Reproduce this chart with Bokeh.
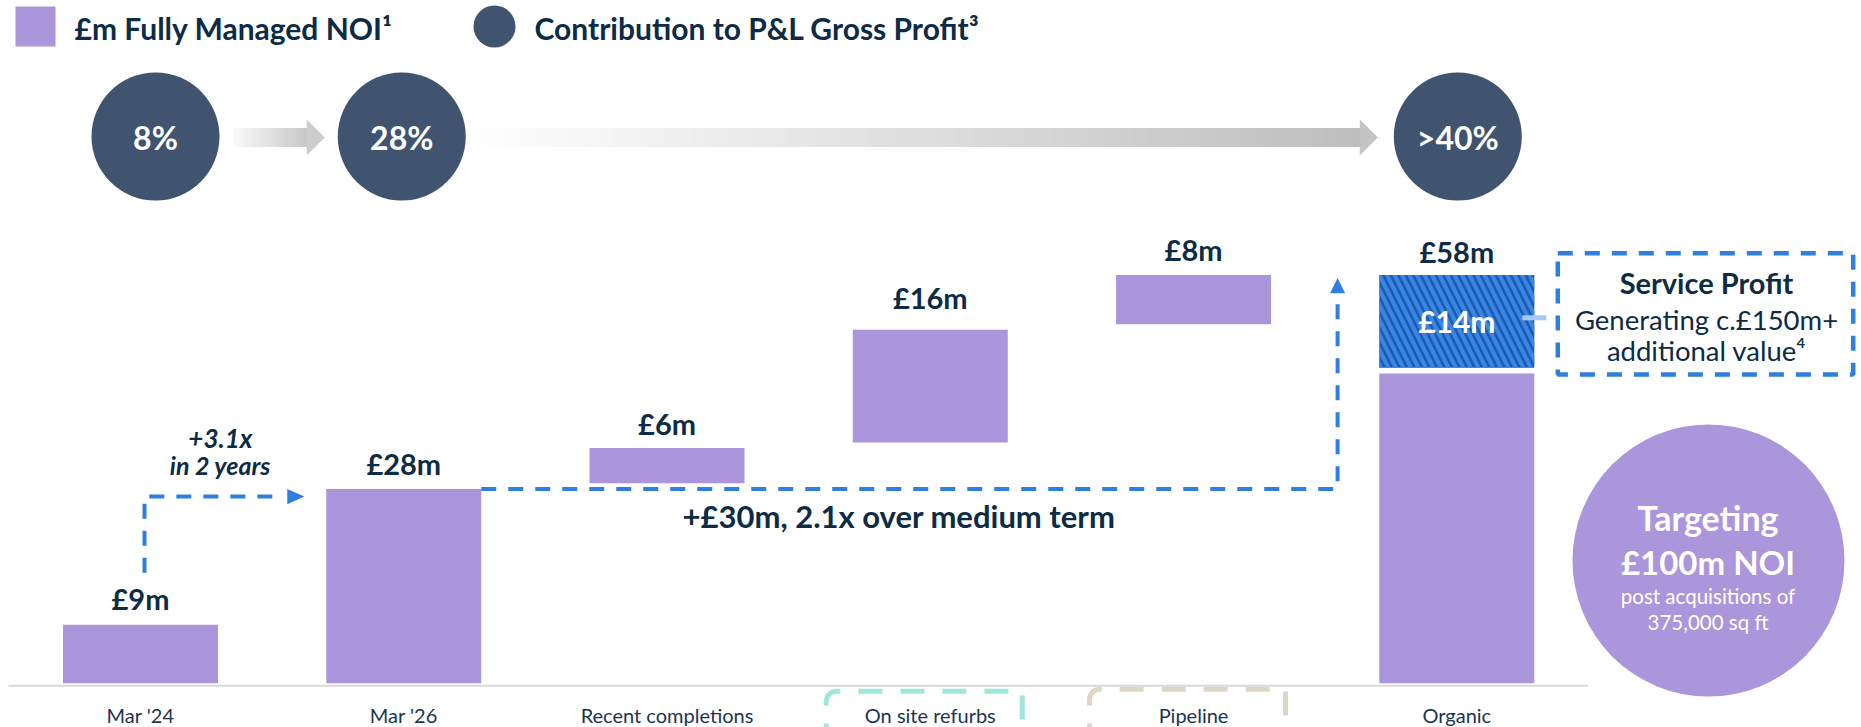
import numpy as np
from bokeh.plotting import figure
from bokeh.models import Range1d
from bokeh.core.properties import value
from bokeh.embed import file_html
from bokeh.resources import INLINE

# ---------------- data ----------------
categories = ["Mar '24", "Mar '26", "Recent completions", "On site refurbs", "Pipeline", "Organic"]
noi_labels = ["£9m", "£28m", "£6m", "£16m", "£8m", "£58m"]
bar_bottom = [0.0, 0.0, 28.4, 34.2, 51.0, 0.0]
bar_top = [8.3, 27.6, 33.4, 50.2, 58.0, 44.0]
service_bottom = [44.8]
service_top = [58.0]
service_labels = ["£14m"]
share_categories = ["Mar '24", "Mar '26", "Organic"]
share_labels = ["8%", "28%", ">40%"]
bracket_categories = ["On site refurbs", "Pipeline"]
legend_labels = ["£m Fully Managed NOI¹", "Contribution to P&L Gross Profit³"]
growth_note = ["+3.1x", "in 2 years"]
medium_note = ["+£30m, 2.1x over medium term"]
service_text = ["Service Profit", "Generating c.£150m+", "additional value⁴"]
target_text = ["Targeting", "£100m NOI", "post acquisitions of", "375,000 sq ft"]

# ---------------- layout ----------------
W, H = 1861, 727
PAGE = 0
XU, YU = 263.26, 7.04          # px per category, px per £m
CAT0_PX, ZERO_PY = 140.0, 682.7


def X(px):
    return (np.asarray(px, dtype=float) - CAT0_PX) / XU


def Y(py):
    return (ZERO_PY - np.asarray(py, dtype=float)) / YU


def DX(px):
    return np.asarray(px, dtype=float) / XU


def DY(py):
    return np.asarray(py, dtype=float) / YU


PURPLE = "#ac96db"
NAVY = "#0d2b45"
LABEL = "#1b3551"
SLATE = "#40536f"
BLUE = "#2e7fe0"
FONT = value("Lato")

p = figure(width=W, height=H,
           x_range=Range1d(float(X(PAGE)), float(X(PAGE + W))),
           y_range=Range1d(float(Y(PAGE + H)), float(Y(PAGE))),
           x_axis_type=None, y_axis_type=None,
           output_backend="svg", toolbar_location=None,
           min_border=0, outline_line_color=None,
           background_fill_color="white", border_fill_color="white")


def txt(x, y, t, size, style="bold", color=NAVY, align="center"):
    p.text(x=list(np.atleast_1d(x)), y=list(np.atleast_1d(y)), text=list(t),
           text_font=FONT, text_font_size=f"{size}px", text_font_style=style,
           text_color=color, text_align=align, text_baseline="middle")


xi = np.arange(len(categories), dtype=float)
BW = float(DX(155))
org = categories.index("Organic")

# ---- legend (top-left) ----
p.scatter([float(X(35))], [float(Y(26))], marker="square", size=40, fill_color=PURPLE, line_color=None)
txt(X(74), Y(27), [legend_labels[0]], 30, align="left")
p.scatter([float(X(494))], [float(Y(26))], marker="circle", size=42, fill_color=SLATE, line_color=None)
txt(X(534), Y(27), [legend_labels[1]], 30, align="left")

# ---- gross-profit share circles and gradient arrows ----
share_x = np.array([categories.index(c) for c in share_categories], float) + DX([15, -2, 1])
share_px = CAT0_PX + share_x * XU
circ_y = float(Y(136))


def grad_arrow(x0px, x1px, v0, v1, vhead, n):
    hb = x1px - 18
    edges = np.linspace(x0px, hb, n + 1)
    mids = (edges[:-1] + edges[1:]) / 2
    vals = np.round(v0 + (v1 - v0) * (mids - x0px) / (hb - x0px)).astype(int)
    cols = ["#%02x%02x%02x" % (v, v, v) for v in vals]
    p.quad(left=X(edges[:-1]), right=X(edges[1:]) + DX(0.8),
           bottom=float(Y(146.5)), top=float(Y(127.5)), fill_color=cols, line_color=None)
    p.patch(list(X([hb, x1px, hb])), list(Y([119, 137, 155])),
            fill_color="#%02x%02x%02x" % (vhead, vhead, vhead), line_color=None)


grad_arrow(share_px[0] + 64 + 14, share_px[1] - 64 - 13, 250, 200, 205, 30)
grad_arrow(share_px[1] + 64 + 14, share_px[2] - 64 - 16, 254, 190, 196, 120)

p.scatter(share_x, [circ_y] * 3, marker="circle", size=128, fill_color=SLATE, line_color=None)
txt(share_x, [float(Y(137))] * 3, share_labels, 32, color="white")

# ---- baseline ----
p.line([float(X(8)), org + float(DX(131))], [float(-DY(2.6))] * 2, line_color="#d9d9d9", line_width=2)

# ---- bottom brackets ----
br_colors = ["#9fe8d9", "#ddd6c6"]
br_tops = [690.8, 688.8]
for c, col, tp in zip(bracket_categories, br_colors, br_tops):
    cx = CAT0_PX + categories.index(c) * XU - 6
    left, right, r = cx - 98, cx + 98, 10
    ang = np.linspace(np.pi, np.pi / 2, 14)
    xs = [left] + list(left + r + r * np.cos(ang)) + [right, right]
    ys = [745] + list(tp + r - r * np.sin(ang)) + [tp, 745]
    p.line(list(X(xs)), list(Y(ys)), line_color=col, line_width=5, line_dash="24 18", line_dash_offset=2)

# ---- bars ----
p.quad(left=xi - BW / 2, right=xi + BW / 2, bottom=bar_bottom, top=bar_top,
       fill_color=PURPLE, line_color=None)
p.quad(left=[org - BW / 2], right=[org + BW / 2], bottom=service_bottom, top=service_top,
       fill_color="#1b5cb5", line_color=None,
       hatch_pattern="\\", hatch_color="#3b86e3", hatch_scale=15, hatch_weight=4)

label_base = list(bar_top)
label_base[org] = service_top[0]
label_gap_px = [26, 25, 25, 32, 25, 23]
txt(xi, [b + float(DY(g)) for b, g in zip(label_base, label_gap_px)], noi_labels, 29)
txt([org], [(service_bottom[0] + service_top[0]) / 2], service_labels, 30, color="white")

# category labels
txt(xi, [float(Y(714))] * len(categories), categories, 20, "normal", LABEL)

# ---- "+3.1x in 2 years" dashed arrow ----
vx = xi[0] + float(DX(4))
y_lo = bar_top[0] + float(DY(52))
y_h = bar_top[1] - float(DY(7.7))
x_tip = xi[1] - BW / 2 - float(DX(22))
p.line([vx, vx, x_tip - float(DX(20))], [y_lo, y_h, y_h], line_color=BLUE, line_width=4, line_dash="15 12")
p.patch([x_tip - float(DX(17)), x_tip, x_tip - float(DX(17))],
        [y_h + float(DY(7.7)), y_h, y_h - float(DY(7.7))], fill_color=BLUE, line_color=None)
mid = (vx + x_tip) / 2 - float(DX(4))
txt([mid], [y_h + float(DY(58.5))], [growth_note[0]], 26, "bold italic")
txt([mid], [y_h + float(DY(32))], [growth_note[1]], 25, "bold italic")

# ---- medium-term dashed arrow ----
hx0 = xi[1] + BW / 2
hy = bar_top[1]
vx2 = org - BW / 2 - float(DX(41.7))
tip = service_top[0] - float(DY(3))
p.line([hx0, vx2, vx2], [hy, hy, tip - float(DY(16))], line_color=BLUE, line_width=4, line_dash="15 12")
p.patch([vx2 - float(DX(7.5)), vx2, vx2 + float(DX(7.5))],
        [tip - float(DY(15.4)), tip, tip - float(DY(15.4))], fill_color=BLUE, line_color=None)
txt(X(898.5), [hy - float(DY(27))], medium_note, 31)

# ---- service profit box ----
p.line([org + BW / 2 - float(DX(12)), org + BW / 2 + float(DX(12))], [float(Y(317.3))] * 2,
       line_color="#a7c9f3", line_width=5)
p.quad(left=X(1557.3), right=X(1852.7), top=Y(252.7), bottom=Y(374),
       fill_color=None, line_color=BLUE, line_width=4.5, line_dash="15 12")
txt(X(1706), Y(282), [service_text[0]], 29)
txt(X(1706), Y(319), [service_text[1]], 27.5, "normal")
txt(X(1706), Y(350), [service_text[2]], 27.5, "normal")

# ---- target circle ----
p.scatter([float(X(1708))], [float(Y(560))], marker="circle", size=272, fill_color=PURPLE, line_color=None)
txt(X(1707.5), Y(516.5), [target_text[0]], 34, color="white")
txt(X(1707.5), Y(561), [target_text[1]], 33, color="white")
txt(X(1707.5), Y(595), [target_text[2]], 20.5, "normal", "white")
txt(X(1707.5), Y(621), [target_text[3]], 20.5, "normal", "white")

open("out.html", "w").write(file_html(p, INLINE))
